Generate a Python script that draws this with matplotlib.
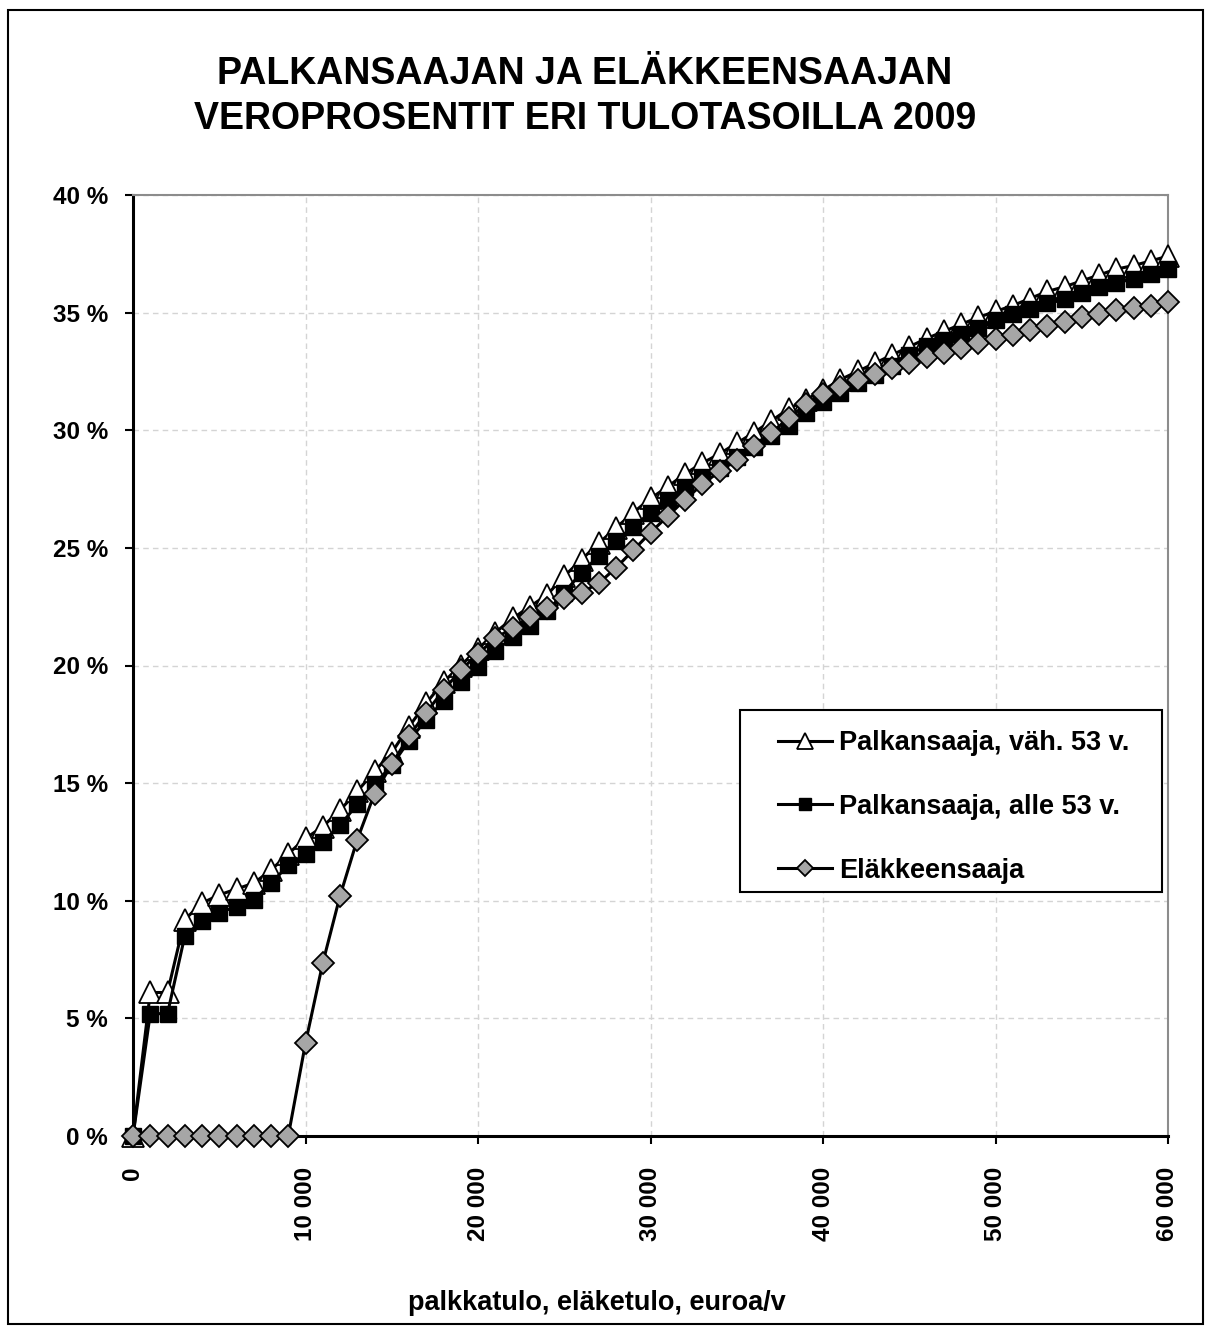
import matplotlib
matplotlib.use("Agg")
import matplotlib.pyplot as plt
from matplotlib.patches import Rectangle
from matplotlib.ticker import FuncFormatter, MultipleLocator

plt.rcParams['font.family'] = ['Liberation Sans', 'DejaVu Sans']
plt.rcParams['font.weight'] = 'bold'

# tulotaso, euroa/v
income = list(range(0, 60001, 1000))

# veroprosentit (%)
tax_over53 = [0, 6.1, 6.1, 9.2, 9.9, 10.25, 10.5, 10.75, 11.3, 12.0,
              12.65, 13.15, 13.85, 14.65, 15.5, 16.3, 17.4, 18.4, 19.3, 20.0,
              20.7, 21.4, 22.0, 22.5, 23.0, 23.8, 24.5, 25.2, 25.85, 26.5,
              27.1, 27.6, 28.15, 28.6, 29.0, 29.45, 29.9, 30.4, 30.9, 31.3,
              31.7, 32.15, 32.5, 32.85, 33.2, 33.55, 33.9, 34.2, 34.5, 34.8,
              35.05, 35.3, 35.6, 35.9, 36.1, 36.35, 36.6, 36.85, 37.0, 37.2,
              37.4]
tax_under53 = [0, 5.2, 5.2, 8.5, 9.15, 9.5, 9.75, 10.05, 10.75, 11.5,
               12.0, 12.5, 13.2, 14.1, 14.95, 15.75, 16.8, 17.7, 18.5, 19.3,
               19.95, 20.6, 21.2, 21.7, 22.3, 23.1, 23.95, 24.65, 25.3, 25.9,
               26.5, 27.05, 27.6, 28.0, 28.4, 28.85, 29.3, 29.75, 30.2, 30.75,
               31.2, 31.6, 32.0, 32.35, 32.75, 33.2, 33.6, 33.85, 34.1, 34.35,
               34.7, 34.95, 35.15, 35.4, 35.6, 35.85, 36.1, 36.25, 36.45, 36.65,
               36.85]
tax_pension = [0, 0, 0, 0, 0, 0, 0, 0, 0, 0,
               3.95, 7.35, 10.2, 12.6, 14.55, 15.8, 17.0, 18.0, 18.95, 19.8,
               20.5, 21.15, 21.6, 22.05, 22.45, 22.85, 23.1, 23.5, 24.15, 24.9,
               25.65, 26.35, 27.05, 27.7, 28.25, 28.75, 29.35, 29.9, 30.5, 31.1,
               31.55, 31.85, 32.15, 32.4, 32.65, 32.85, 33.1, 33.3, 33.5, 33.7,
               33.9, 34.05, 34.25, 34.45, 34.6, 34.8, 34.95, 35.1, 35.2, 35.3,
               35.45]

labels = ["Palkansaaja, väh. 53 v.", "Palkansaaja, alle 53 v.", "Eläkkeensaaja"]

W, H = 1211, 1333
fig = plt.figure(figsize=(W / 100, H / 100), dpi=100)
ax = fig.add_axes([133 / W, 1 - 1136 / H, 1035 / W, 941 / H])

ax.plot(income, tax_over53, color='black', lw=2.2, marker='^', ms=16,
        mfc='white', mec='black', mew=1.3, label=labels[0], zorder=3, clip_on=False)
ax.plot(income, tax_under53, color='black', lw=2.2, marker='s', ms=11.5,
        mfc='black', mec='black', mew=1, label=labels[1], zorder=4, clip_on=False)
ax.plot(income, tax_pension, color='black', lw=2.2, marker='D', ms=11.5,
        mfc='#a6a6a6', mec='black', mew=1.3, label=labels[2], zorder=5, clip_on=False)

ax.set_xlim(0, 60000)
ax.set_ylim(0, 40)
ax.xaxis.set_major_locator(MultipleLocator(10000))
ax.yaxis.set_major_locator(MultipleLocator(5))
ax.xaxis.set_major_formatter(FuncFormatter(lambda v, p: f"{int(v):,}".replace(",", " ")))
ax.yaxis.set_major_formatter(FuncFormatter(lambda v, p: f"{int(v)} %"))

ax.grid(True, color='#d4d4d4', linestyle=(0, (4, 3)), lw=1)
ax.set_axisbelow(True)

for s in ['left', 'bottom']:
    ax.spines[s].set_linewidth(2.2)
    ax.spines[s].set_color('black')
for s in ['top', 'right']:
    ax.spines[s].set_linewidth(1.5)
    ax.spines[s].set_color('#8c8c8c')

ax.tick_params(axis='y', length=6, width=1.5, pad=12, labelsize=17.5)
ax.tick_params(axis='x', length=6, width=1.5, pad=16, labelsize=17.5, labelrotation=90)
for t in ax.get_xticklabels():
    t.set_fontweight('bold')
for t in ax.get_yticklabels():
    t.set_fontweight('bold')

ax.set_xlabel("palkkatulo, eläketulo, euroa/v", fontsize=19.5, fontweight='bold')
ax.xaxis.set_label_coords((597 - 133) / 1035, (1136 - 1290) / 941)

fig.text(585 / W, 1 - 74 / H, "PALKANSAAJAN JA ELÄKKEENSAAJAN", ha='center', va='center',
         fontsize=27, fontweight='bold')
fig.text(585 / W, 1 - 119 / H, "VEROPROSENTIT ERI TULOTASOILLA 2009", ha='center', va='center',
         fontsize=27, fontweight='bold')

# legend box
ax.add_patch(Rectangle(((740 - 133) / 1035, (1136 - 892) / 941), 422 / 1035, 182 / 941,
                       transform=ax.transAxes, fill=True, facecolor='white',
                       edgecolor='black', lw=1.5, zorder=6, clip_on=False))
leg = ax.legend(loc='upper left', bbox_to_anchor=((778 - 133) / 1035, (1136 - 730) / 941),
                frameon=False, fontsize=19.5, borderpad=0, borderaxespad=0,
                handlelength=2.0, handletextpad=0.25, labelspacing=1.4, markerscale=0.7)
leg.set_zorder(7)
for t in leg.get_texts():
    t.set_fontweight('bold')

# outer border
fig.add_artist(Rectangle((8 / W, 1 - 1324 / H), 1195 / W, 1314 / H, transform=fig.transFigure,
                         fill=False, edgecolor='black', lw=1.5))

fig.savefig("out.png", dpi=100)
